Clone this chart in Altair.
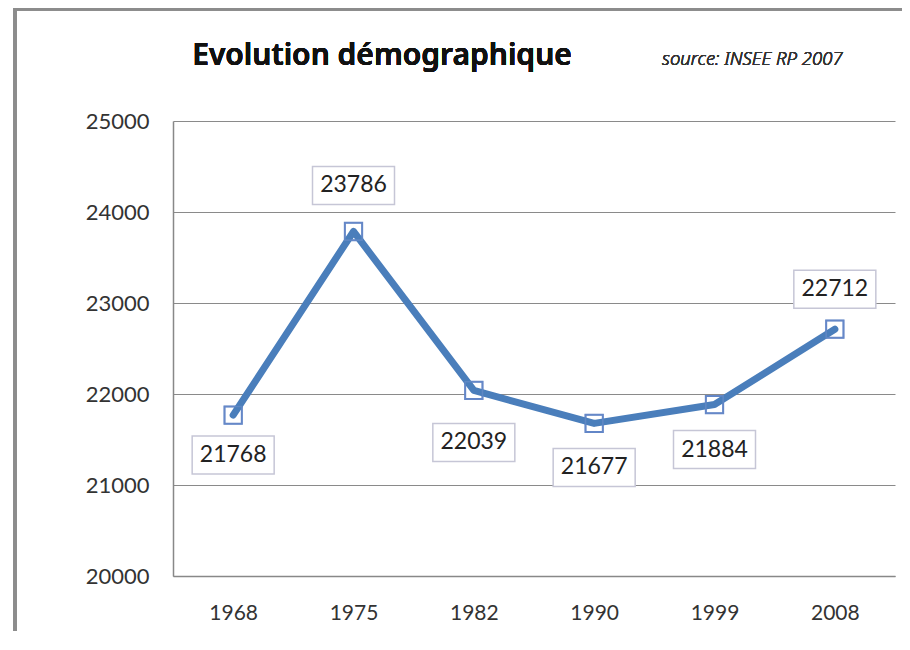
import altair as alt
import pandas as pd

years = ["1968", "1975", "1982", "1990", "1999", "2008"]
population = [21768, 23786, 22039, 21677, 21884, 22712]

# styling: vertical placement of the value boxes (pixels, + = below point)
label_offset_px = [40, -46, 52, 44, 45, -40]

W, H = 722, 455
Y_MIN, Y_MAX = 20000, 25000
px_to_units = (Y_MAX - Y_MIN) / H

df = pd.DataFrame({"year": years, "pop": population, "off": label_offset_px})
df["label_y"] = df["pop"] - df["off"] * px_to_units

FONT = "Lato"
BLUE = "#4A7EBB"

x_enc = alt.X("year:N", sort=years,
              scale=alt.Scale(type="point", padding=0.5),
              axis=alt.Axis(title=None, labelAngle=0, labelFont=FONT, labelFontSize=21,
                            labelColor="#333333", labelPadding=26, ticks=False,
                            domainColor="#888888", domainWidth=1.5, grid=False))
y_scale = alt.Scale(domain=[Y_MIN, Y_MAX], nice=False, zero=False)
y_enc = alt.Y("pop:Q", scale=y_scale,
              axis=alt.Axis(title=None, values=[20000, 21000, 22000, 23000, 24000, 25000],
                            format="d", labelFont=FONT, labelFontSize=22, labelColor="#333333",
                            labelPadding=24, ticks=False, domainColor="#888888", domainWidth=1.5,
                            grid=True, gridColor="#8a8a8a", gridWidth=1))

base = alt.Chart(df)

markers = base.mark_point(shape="square", filled=True, size=300, fill="white",
                          stroke="#5b80c4", strokeWidth=2, opacity=1).encode(x=x_enc, y=y_enc)
line = base.mark_line(color=BLUE, strokeWidth=7, strokeJoin="round", strokeCap="round").encode(
    x=x_enc, y=y_enc)
marker_edges = base.mark_point(shape="square", filled=False, size=300,
                               stroke="#6f8fcc", strokeWidth=1.6, opacity=0.55).encode(x=x_enc, y=y_enc)

box_shape = "M-1,-0.4634L1,-0.4634L1,0.4634L-1,0.4634Z"
boxes = base.mark_point(shape=box_shape, filled=True, size=82 * 82, fill="white",
                        stroke="#c6c6d6", strokeWidth=1.5, opacity=1).encode(
    x=alt.X("year:N", sort=years, scale=alt.Scale(type="point", padding=0.5)),
    y=alt.Y("label_y:Q", scale=y_scale))
labels = base.mark_text(font=FONT, fontSize=23, color="#222222", baseline="middle",
                        align="center").encode(
    x=alt.X("year:N", sort=years, scale=alt.Scale(type="point", padding=0.5)),
    y=alt.Y("label_y:Q", scale=y_scale),
    text=alt.Text("pop:Q", format="d"))

frame = base.mark_rect(fill="transparent", stroke="#8c8c8c", strokeWidth=3).encode(
    x=alt.value(-158), x2=alt.value(760), y=alt.value(-112), y2=alt.value(640))

title = base.mark_text(font="Noto Sans", fontSize=30, fontWeight=600, color="#111111",
                       align="center", baseline="alphabetic").encode(
    x=alt.value(209), y=alt.value(-56), text=alt.value("Evolution démographique"))
source = base.mark_text(font="Noto Sans", fontSize=18.5, fontStyle="italic", fontWeight=300,
                        color="#333333", align="left", baseline="alphabetic").encode(
    x=alt.value(489), y=alt.value(-56), text=alt.value("source: INSEE RP 2007"))

chart = alt.layer(frame, markers, line, marker_edges, boxes, labels, title, source).properties(
    width=W, height=H,
    autosize="none",
    padding={"left": 165, "top": 113, "right": 7, "bottom": 55},
    background="white",
).configure_view(strokeWidth=0)

chart.save("out.html", embed_options={"renderer": "svg", "actions": False})
